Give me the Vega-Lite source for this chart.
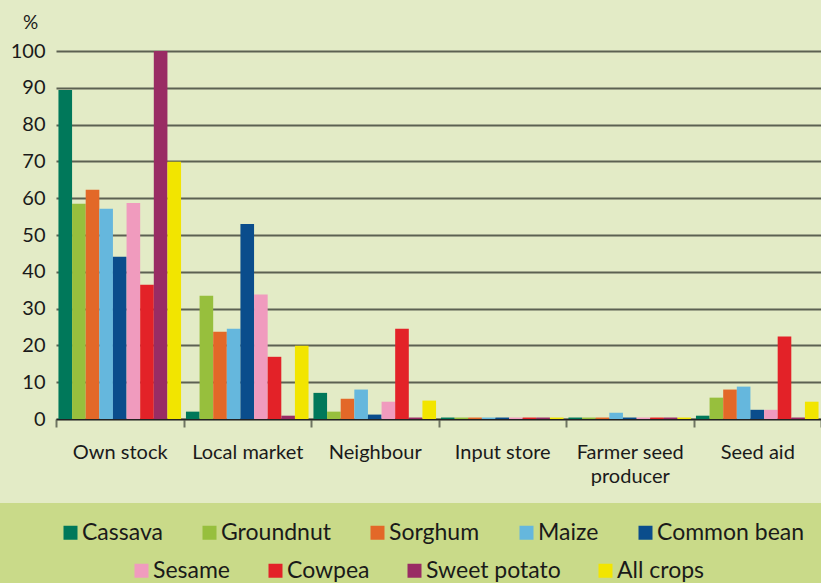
{
  "$schema": "https://vega.github.io/schema/vega-lite/v6.json",
  "width": 765,
  "height": 368,
  "autosize": {"type": "none"},
  "padding": {"left": 56, "top": 51, "right": 0, "bottom": 164},
  "background": "#e3ebc6",
  "config": {"view": {"stroke": null}, "font": "Lato"},
  "data": {"values": [
    {"source": "Own stock", "crop": "Cassava", "value": 89.4},
    {"source": "Own stock", "crop": "Groundnut", "value": 58.5},
    {"source": "Own stock", "crop": "Sorghum", "value": 62.3},
    {"source": "Own stock", "crop": "Maize", "value": 57.1},
    {"source": "Own stock", "crop": "Common bean", "value": 44.1},
    {"source": "Own stock", "crop": "Sesame", "value": 58.7},
    {"source": "Own stock", "crop": "Cowpea", "value": 36.5},
    {"source": "Own stock", "crop": "Sweet potato", "value": 100},
    {"source": "Own stock", "crop": "All crops", "value": 69.9},
    {"source": "Local market", "crop": "Cassava", "value": 2.0},
    {"source": "Local market", "crop": "Groundnut", "value": 33.5},
    {"source": "Local market", "crop": "Sorghum", "value": 23.7},
    {"source": "Local market", "crop": "Maize", "value": 24.5},
    {"source": "Local market", "crop": "Common bean", "value": 53.0},
    {"source": "Local market", "crop": "Sesame", "value": 33.8},
    {"source": "Local market", "crop": "Cowpea", "value": 16.9},
    {"source": "Local market", "crop": "Sweet potato", "value": 0.9},
    {"source": "Local market", "crop": "All crops", "value": 19.9},
    {"source": "Neighbour", "crop": "Cassava", "value": 7.1},
    {"source": "Neighbour", "crop": "Groundnut", "value": 2.0},
    {"source": "Neighbour", "crop": "Sorghum", "value": 5.5},
    {"source": "Neighbour", "crop": "Maize", "value": 8.0},
    {"source": "Neighbour", "crop": "Common bean", "value": 1.2},
    {"source": "Neighbour", "crop": "Sesame", "value": 4.7},
    {"source": "Neighbour", "crop": "Cowpea", "value": 24.5},
    {"source": "Neighbour", "crop": "Sweet potato", "value": 0.4},
    {"source": "Neighbour", "crop": "All crops", "value": 5.0},
    {"source": "Input store", "crop": "Cassava", "value": 0.4},
    {"source": "Input store", "crop": "Groundnut", "value": 0.4},
    {"source": "Input store", "crop": "Sorghum", "value": 0.4},
    {"source": "Input store", "crop": "Maize", "value": 0.4},
    {"source": "Input store", "crop": "Common bean", "value": 0.4},
    {"source": "Input store", "crop": "Sesame", "value": 0.4},
    {"source": "Input store", "crop": "Cowpea", "value": 0.4},
    {"source": "Input store", "crop": "Sweet potato", "value": 0.4},
    {"source": "Input store", "crop": "All crops", "value": 0.4},
    {"source": "Farmer seed producer", "crop": "Cassava", "value": 0.4},
    {"source": "Farmer seed producer", "crop": "Groundnut", "value": 0.4},
    {"source": "Farmer seed producer", "crop": "Sorghum", "value": 0.4},
    {"source": "Farmer seed producer", "crop": "Maize", "value": 1.7},
    {"source": "Farmer seed producer", "crop": "Common bean", "value": 0.4},
    {"source": "Farmer seed producer", "crop": "Sesame", "value": 0.4},
    {"source": "Farmer seed producer", "crop": "Cowpea", "value": 0.4},
    {"source": "Farmer seed producer", "crop": "Sweet potato", "value": 0.4},
    {"source": "Farmer seed producer", "crop": "All crops", "value": 0.4},
    {"source": "Seed aid", "crop": "Cassava", "value": 0.9},
    {"source": "Seed aid", "crop": "Groundnut", "value": 5.8},
    {"source": "Seed aid", "crop": "Sorghum", "value": 8.0},
    {"source": "Seed aid", "crop": "Maize", "value": 8.8},
    {"source": "Seed aid", "crop": "Common bean", "value": 2.5},
    {"source": "Seed aid", "crop": "Sesame", "value": 2.5},
    {"source": "Seed aid", "crop": "Cowpea", "value": 22.4},
    {"source": "Seed aid", "crop": "Sweet potato", "value": 0.4},
    {"source": "Seed aid", "crop": "All crops", "value": 4.7}
  ]},
  "encoding": {
    "x": {
      "field": "source", "type": "nominal",
      "sort": ["Own stock", "Local market", "Neighbour", "Input store", "Farmer seed producer", "Seed aid"],
      "scale": {"paddingInner": 0, "paddingOuter": 0},
      "title": null,
      "axis": {
        "labelAngle": 0, "labelFontSize": 20, "labelColor": "#1a1a1a", "labelPadding": 15,
        "labelExpr": "datum.label == 'Farmer seed producer' ? ['Farmer seed', 'producer'] : datum.label",
        "labelLineHeight": 24,
        "tickBand": "extent", "tickSize": 8, "tickColor": "#6e7462", "tickWidth": 2,
        "domainColor": "#222222", "domainWidth": 1.5
      }
    },
    "xOffset": {
      "field": "crop",
      "scale": {
        "domain": ["Cassava", "Groundnut", "Sorghum", "Maize", "Common bean", "Sesame", "Cowpea", "Sweet potato", "All crops"],
        "paddingInner": 0, "paddingOuter": 0.18
      }
    },
    "y": {
      "field": "value", "type": "quantitative",
      "scale": {"domain": [0, 100]},
      "axis": {
        "values": [0, 10, 20, 30, 40, 50, 60, 70, 80, 90, 100],
        "title": "%", "titleAngle": 0, "titleX": -26, "titleY": -29,
        "titleAlign": "center", "titleBaseline": "middle", "titleFontSize": 19,
        "titleFontWeight": "normal", "titleColor": "#1a1a1a",
        "labelFontSize": 20, "labelColor": "#1a1a1a", "labelPadding": 11,
        "domain": false, "ticks": false,
        "grid": true, "gridColor": "#5c6152", "gridWidth": 1.8
      }
    }
  },
  "layer": [
    {
      "transform": [{"filter": {"field": "crop", "oneOf": ["Cassava", "Groundnut", "Sorghum", "Maize", "Common bean"]}}],
      "mark": {"type": "bar"},
      "encoding": {
        "color": {
          "field": "crop", "type": "nominal",
          "scale": {
            "domain": ["Cassava", "Groundnut", "Sorghum", "Maize", "Common bean"],
            "range": ["#00785a", "#97bf3d", "#e36828", "#65b7dd", "#0a4d8c"]
          },
          "legend": {
            "orient": "none", "legendX": -48, "legendY": 460,
            "direction": "horizontal", "columns": 5,
            "columnPadding": 35, "padding": 10,
            "fillColor": "#c9da89", "strokeColor": "#c9da89",
            "symbolType": "square", "symbolSize": 196, "symbolStrokeWidth": 0,
            "labelFontSize": 23, "labelColor": "#1a1a1a", "labelOffset": 0, "labelLimit": 300,
            "title": " ", "titleOrient": "left", "titlePadding": 41, "titleFontSize": 60,
            "titleBaseline": "top", "titleAnchor": "start",
            "encode": {"legend": {"update": {"strokeWidth": {"value": 16}}}}
          }
        }
      }
    },
    {
      "transform": [{"filter": {"field": "crop", "oneOf": ["Sesame", "Cowpea", "Sweet potato", "All crops"]}}],
      "mark": {"type": "bar"},
      "encoding": {
        "color": {
          "field": "crop", "type": "nominal",
          "scale": {
            "domain": ["Sesame", "Cowpea", "Sweet potato", "All crops"],
            "range": ["#f09bbe", "#e32228", "#992c64", "#f2e500"]
          },
          "legend": {
            "orient": "none", "legendX": 74, "legendY": 508, "zindex": 2,
            "direction": "horizontal", "columns": 4,
            "columnPadding": 33, "padding": 0,
            "symbolType": "square", "symbolSize": 196, "symbolStrokeWidth": 0,
            "labelFontSize": 23, "labelColor": "#1a1a1a", "labelOffset": 0, "labelLimit": 300,
            "title": null
          }
        }
      }
    }
  ],
  "resolve": {"scale": {"color": "independent"}}
}
